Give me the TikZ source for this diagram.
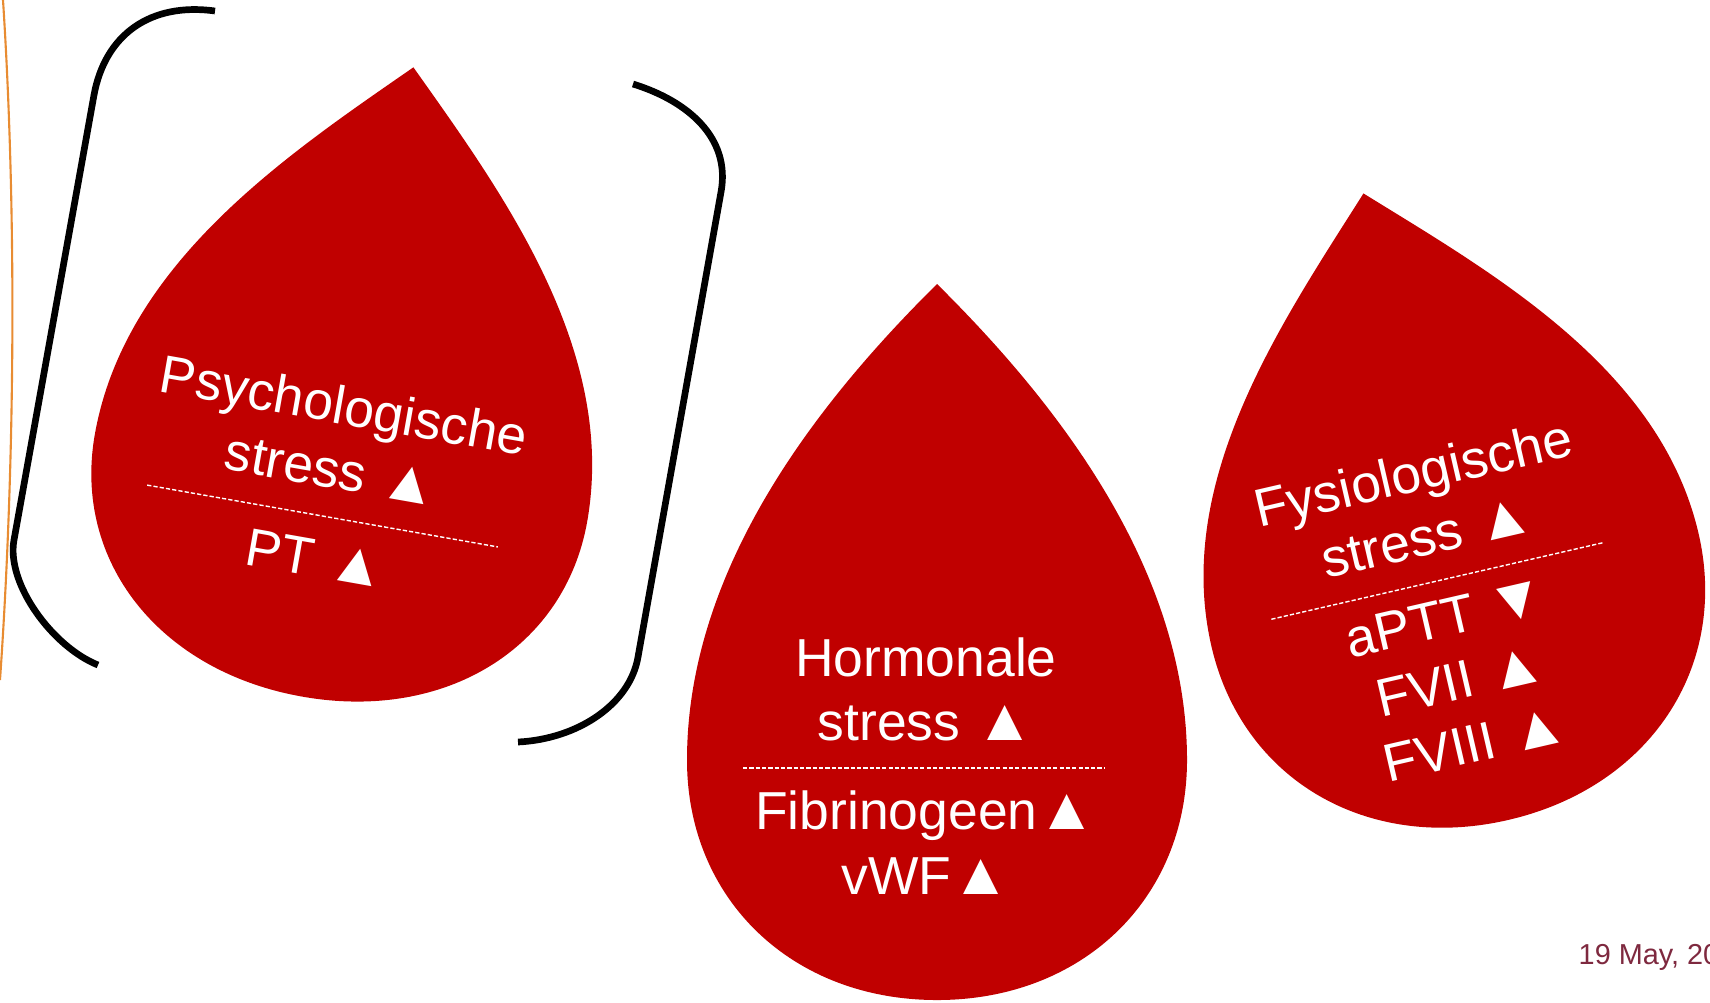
\documentclass[tikz,border=0pt]{standalone}
\usepackage{fontspec}
\setmainfont{Liberation Sans}
\usepackage{tikz}
\definecolor{DropRed}{RGB}{192,0,0}
\definecolor{DateMaroon}{RGB}{126,41,63}
\definecolor{EdgeOrange}{RGB}{232,140,50}
\newcommand{\upmark}{{\fontsize{17}{18.4}\selectfont ▲}}
\newcommand{\downmark}{{\fontsize{17}{18.4}\selectfont ▼}}

\begin{document}
\begin{tikzpicture}[
    x=0.01cm, y=-0.01cm,
    pics/blooddrop/.style 2 args={code={
      \fill[DropRed] (0,-#1) .. controls (-107,-#1+106) and (-250,-0.42*#1) .. (-250,0)
        .. controls (-250,0.58*#2) and (-145,#2) .. (0,#2)
        .. controls (145,#2) and (250,0.58*#2) .. (250,0)
        .. controls (250,-0.42*#1) and (107,-#1+106) .. (0,-#1) -- cycle;
    }},
    bracket/.style={
      draw=black,
      line width=1.9pt
    },
    divider/.style={
      draw=white,
      line width=0.4pt,
      dash pattern=on 1.2pt off 0.6pt
    },
    droptext/.style={
      text=white,
      font=\fontsize{15.2}{18.4}\selectfont,
      align=center,
      inner sep=0pt,
      anchor=south
    }
  ]
  \useasboundingbox (0,0) rectangle (1710,1002);

  % Slide edge
  \draw[EdgeOrange, line width=0.6pt] (3,0) .. controls (16,200) and (16,450) .. (0,680);

  % Brackets
  \draw[bracket] (215,11) .. controls (150,2) and (105,35) .. (94,95)
    -- (14,540) .. controls (6,584) and (53,647) .. (98,665);
  \draw[bracket] (633,84) .. controls (688,101) and (731,138) .. (721,192)
    -- (638,657) .. controls (630,704) and (578,739) .. (518,742);

  % Drops
  \pic[rotate=-10] at (341,478) {blooddrop={417}{222}};
  \pic at (937,760) {blooddrop={476}{240}};
  \pic[rotate=13] at (1455,590) {blooddrop={407}{236}};

  % Psychologische stress
  \begin{scope}[shift={(322.5,516)}, rotate=-10, transform shape]
    \draw[divider] (-178,0) -- (178,0);
    \node[droptext] (psyTop)    at (2,-28) {Psychologische\\stress \upmark};
    \node[droptext] (psyBottom) at (2,62)  {PT \upmark};
  \end{scope}

  % Hormonale stress
  \begin{scope}[shift={(924,768)}]
    \draw[divider] (-181,0) -- (181,0);
    \node[droptext] (hormTop)    at (2,-26) {Hormonale\\stress \upmark};
    \node[droptext] (hormBottom) at (2,127) {Fibrinogeen\upmark\\vWF\upmark};
  \end{scope}

  % Fysiologische stress
  \begin{scope}[shift={(1437,581)}, rotate=13, transform shape]
    \draw[divider] (-170,0) -- (170,0);
    \node[droptext] (fysTop)    at (1,-26) {Fysiologische\\stress \upmark};
    \node[droptext] (fysBottom) at (1,186) {aPTT \downmark\\FVII \upmark\\FVIII \upmark};
  \end{scope}

  % Date
  \node[anchor=base west, inner sep=0pt, text=DateMaroon,
        font=\fontsize{8.2}{10}\selectfont] (date) at (1578,964) {19 May, 20};

\end{tikzpicture}
\end{document}
